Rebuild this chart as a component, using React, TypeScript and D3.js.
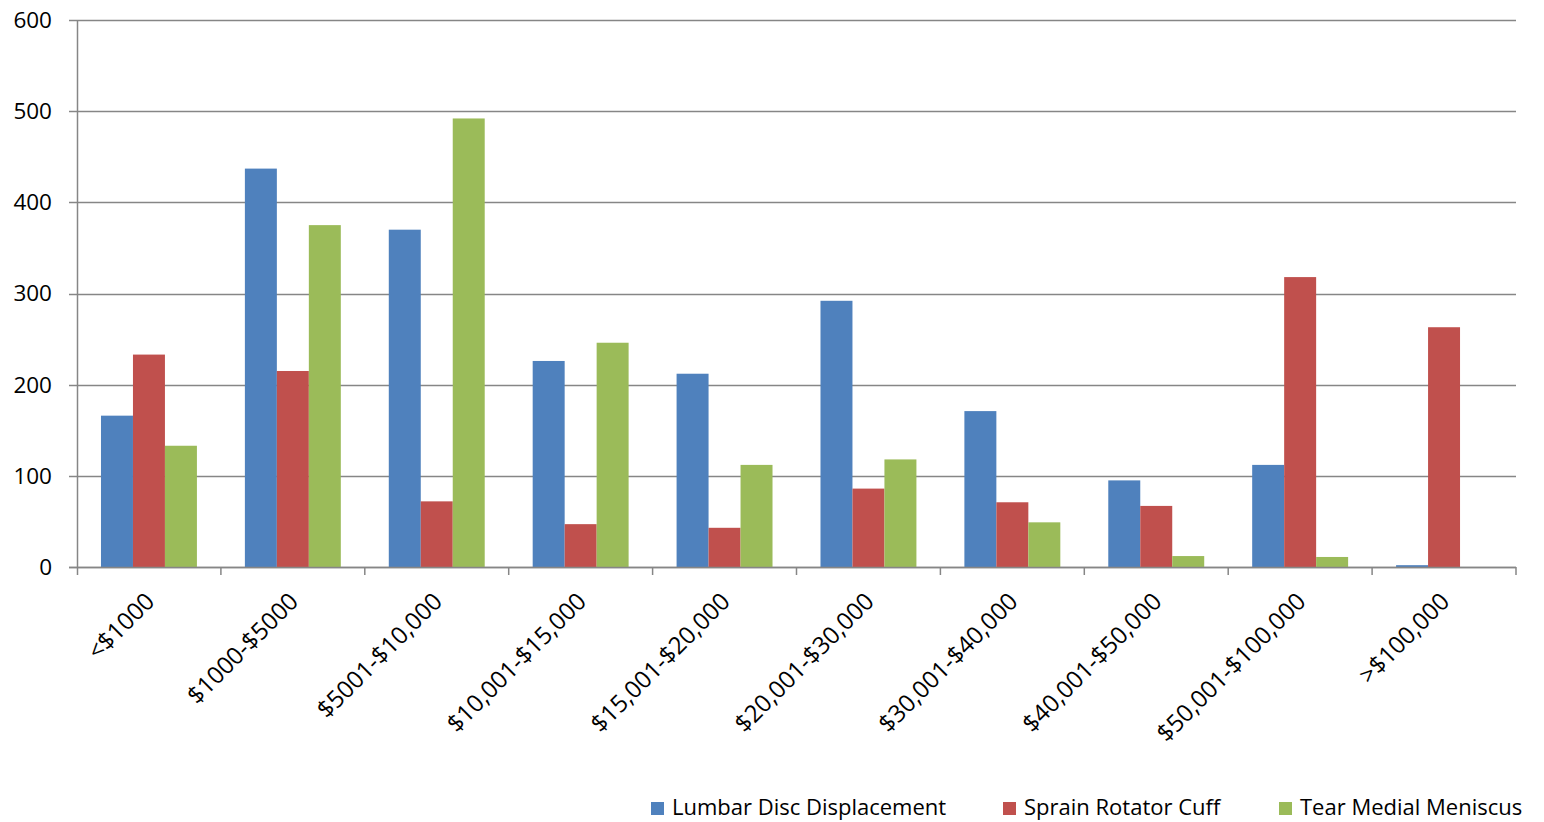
import React, { useEffect, useRef } from "react";
import * as d3 from "d3";

const categories = [
  "<$1000",
  "$1000-$5000",
  "$5001-$10,000",
  "$10,001-$15,000",
  "$15,001-$20,000",
  "$20,001-$30,000",
  "$30,001-$40,000",
  "$40,001-$50,000",
  "$50,001-$100,000",
  ">$100,000",
];
const seriesNames = ["Lumbar Disc Displacement", "Sprain Rotator Cuff", "Tear Medial Meniscus"];
const lumbar = [166, 437, 370, 226, 212, 292, 171, 95, 112, 2];
const rotator = [233, 215, 72, 47, 43, 86, 71, 67, 318, 263];
const meniscus = [133, 375, 492, 246, 112, 118, 49, 12, 11, 0];
const yTicks = [0, 100, 200, 300, 400, 500, 600];
const colors = ["#4F81BD", "#C0504D", "#9BBB59"];

const App: React.FC = () => {
  const svgRef = useRef<SVGSVGElement | null>(null);

  useEffect(() => {
    if (!svgRef.current) return;
    const width = 1544;
    const height = 822;
    const margin = { top: 20, right: 28, bottom: 255, left: 77 };
    const plotW = width - margin.left - margin.right;
    const plotH = height - margin.top - margin.bottom;
    const font = "Open Sans, sans-serif";
    const gray = "#868686";

    const svg = d3.select(svgRef.current);
    svg.selectAll("*").remove();

    const g = svg.append("g").attr("transform", `translate(${margin.left},${margin.top})`);

    const x = d3.scaleBand().domain(categories).range([0, plotW]).paddingInner(0).paddingOuter(0);
    const y = d3.scaleLinear().domain([0, 600]).range([plotH, 0]);
    const barW = x.bandwidth() / 4.5;
    const inner = d3
      .scaleBand()
      .domain(["0", "1", "2"])
      .range([barW * 0.75, barW * 3.75]);

    // gridlines
    g.append("g")
      .selectAll("line")
      .data(yTicks)
      .join("line")
      .attr("x1", -8)
      .attr("x2", plotW)
      .attr("y1", (d) => Math.round(y(d)) + 0.5)
      .attr("y2", (d) => Math.round(y(d)) + 0.5)
      .attr("stroke", gray)
      .attr("stroke-width", 1.5);

    // y labels
    g.append("g")
      .selectAll("text")
      .data(yTicks)
      .join("text")
      .attr("x", -25)
      .attr("y", (d) => y(d))
      .attr("dy", "0.35em")
      .attr("text-anchor", "end")
      .attr("font-family", font)
      .attr("font-size", 22.5)
      .attr("fill", "#000")
      .text((d) => d);

    // bars
    const series = [lumbar, rotator, meniscus];
    series.forEach((vals, si) => {
      g.append("g")
        .selectAll("rect")
        .data(vals)
        .join("rect")
        .attr("x", (_, i) => (x(categories[i]) || 0) + (inner(String(si)) || 0))
        .attr("width", inner.bandwidth())
        .attr("y", (d) => y(d))
        .attr("height", (d) => plotH - y(d))
        .attr("fill", colors[si]);
    });

    // y axis line
    g.append("line")
      .attr("x1", 0.5)
      .attr("x2", 0.5)
      .attr("y1", 0)
      .attr("y2", plotH + 8)
      .attr("stroke", gray)
      .attr("stroke-width", 1.5);

    // x axis line and ticks
    g.append("line")
      .attr("x1", -8)
      .attr("x2", plotW)
      .attr("y1", plotH + 0.5)
      .attr("y2", plotH + 0.5)
      .attr("stroke", gray)
      .attr("stroke-width", 1.5);
    const tickPos = categories.map((c) => (x(c) || 0) + x.bandwidth());
    g.append("g")
      .selectAll("line")
      .data(tickPos)
      .join("line")
      .attr("x1", (d) => d)
      .attr("x2", (d) => d)
      .attr("y1", plotH)
      .attr("y2", plotH + 8)
      .attr("stroke", gray)
      .attr("stroke-width", 1.5);

    // x labels
    g.append("g")
      .selectAll("text")
      .data(categories)
      .join("text")
      .attr("transform", (d) => {
        const cx = (x(d) || 0) + x.bandwidth() / 2 + 1;
        return `translate(${cx},${plotH + 30}) rotate(-45)`;
      })
      .attr("text-anchor", "end")
      .attr("dy", "0.35em")
      .attr("font-family", font)
      .attr("font-size", 24)
      .attr("fill", "#000")
      .text((d) => d);

    // legend
    const legendX = [651, 1003, 1279];
    const legend = svg.append("g");
    seriesNames.forEach((name, i) => {
      legend
        .append("rect")
        .attr("x", legendX[i])
        .attr("y", 802)
        .attr("width", 13)
        .attr("height", 13)
        .attr("fill", colors[i]);
      legend
        .append("text")
        .attr("x", legendX[i] + 21)
        .attr("y", 807)
        .attr("dy", "0.35em")
        .attr("font-family", font)
        .attr("font-size", 22)
        .attr("fill", "#000")
        .text(name);
    });
  }, []);

  return (
    <svg
      ref={svgRef}
      width={1544}
      height={822}
      style={{ position: "absolute", left: 0, top: 0, background: "#fff" }}
    ></svg>
  );
};

export default App;
